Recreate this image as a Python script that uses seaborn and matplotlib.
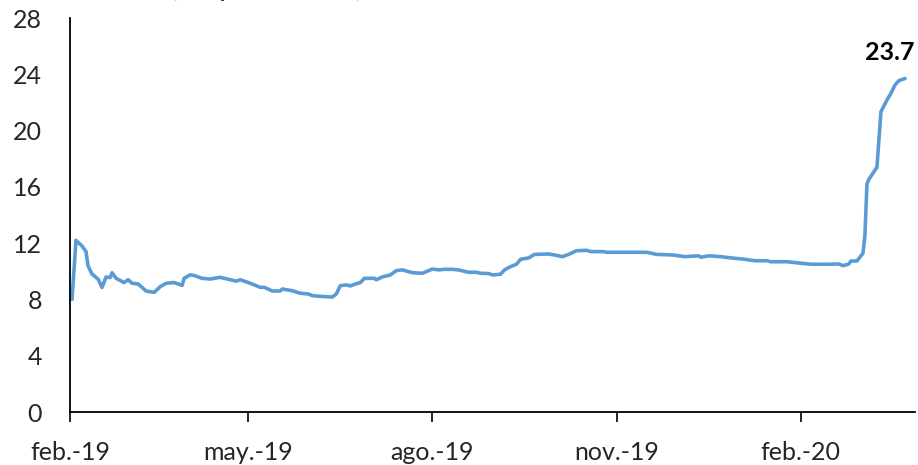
import pandas as pd
import seaborn as sns
import matplotlib.pyplot as plt

# fechas y valores
fechas = ['2019-02-01', '2019-02-02', '2019-02-04', '2019-02-07', '2019-02-09', '2019-02-10',
          '2019-02-12', '2019-02-15', '2019-02-17', '2019-02-19', '2019-02-21', '2019-02-22',
          '2019-02-24', '2019-02-28', '2019-03-02', '2019-03-04', '2019-03-07', '2019-03-11',
          '2019-03-15', '2019-03-18', '2019-03-21', '2019-03-25', '2019-03-29', '2019-03-30',
          '2019-04-02', '2019-04-04', '2019-04-08', '2019-04-12', '2019-04-17', '2019-04-22',
          '2019-04-25', '2019-04-27', '2019-05-02', '2019-05-07', '2019-05-09', '2019-05-13',
          '2019-05-17', '2019-05-18', '2019-05-23', '2019-05-27', '2019-05-31', '2019-06-02',
          '2019-06-06', '2019-06-12', '2019-06-14', '2019-06-16', '2019-06-19', '2019-06-21',
          '2019-06-24', '2019-06-26', '2019-06-28', '2019-07-03', '2019-07-04', '2019-07-07',
          '2019-07-11', '2019-07-14', '2019-07-17', '2019-07-22', '2019-07-27', '2019-08-01',
          '2019-08-04', '2019-08-07', '2019-08-11', '2019-08-14', '2019-08-19', '2019-08-23',
          '2019-08-25', '2019-08-29', '2019-08-31', '2019-09-04', '2019-09-06', '2019-09-09',
          '2019-09-12', '2019-09-14', '2019-09-18', '2019-09-21', '2019-09-28', '2019-10-01',
          '2019-10-05', '2019-10-08', '2019-10-12', '2019-10-17', '2019-10-19', '2019-10-25',
          '2019-10-27', '2019-11-12', '2019-11-16', '2019-11-21', '2019-11-29', '2019-12-05',
          '2019-12-12', '2019-12-13', '2019-12-17', '2019-12-23', '2019-12-27', '2020-01-04',
          '2020-01-09', '2020-01-15', '2020-01-17', '2020-01-25', '2020-01-31', '2020-02-06',
          '2020-02-15', '2020-02-20', '2020-02-22', '2020-02-25', '2020-02-26', '2020-02-29',
          '2020-03-03', '2020-03-04', '2020-03-05', '2020-03-06', '2020-03-10', '2020-03-12',
          '2020-03-15', '2020-03-17', '2020-03-19', '2020-03-21', '2020-03-24']
valores = [8.7, 8.0, 12.2, 11.8, 11.4, 10.4,
           9.8, 9.45, 8.85, 9.6, 9.55, 9.9,
           9.5, 9.2, 9.4, 9.15, 9.1, 8.6,
           8.5, 8.9, 9.15, 9.2, 9.0, 9.5,
           9.75, 9.7, 9.5, 9.45, 9.57, 9.4,
           9.3, 9.4, 9.15, 8.86, 8.86, 8.6,
           8.6, 8.74, 8.62, 8.44, 8.39, 8.27,
           8.22, 8.17, 8.39, 8.98, 9.03, 8.96,
           9.12, 9.2, 9.5, 9.5, 9.4, 9.6,
           9.74, 10.05, 10.1, 9.9, 9.86, 10.16,
           10.1, 10.14, 10.14, 10.1, 9.93, 9.93,
           9.86, 9.84, 9.74, 9.79, 10.1, 10.33,
           10.5, 10.85, 10.95, 11.2, 11.23, 11.16,
           11.04, 11.2, 11.46, 11.49, 11.4, 11.4,
           11.35, 11.35, 11.35, 11.2, 11.16, 11.04,
           11.1, 11.0, 11.1, 11.04, 10.97, 10.85,
           10.75, 10.75, 10.68, 10.68, 10.59, 10.5,
           10.5, 10.52, 10.4, 10.52, 10.73, 10.73,
           11.28, 12.58, 16.2, 16.54, 17.4, 21.35,
           22.17, 22.65, 23.24, 23.55, 23.7]

tick_fechas = ['2019-02-01', '2019-05-01', '2019-08-01', '2019-11-01', '2020-02-01']
tick_labels = ['feb.-19', 'may.-19', 'ago.-19', 'nov.-19', 'feb.-20']
y_ticks = [0, 4, 8, 12, 16, 20, 24, 28]

df = pd.DataFrame({'fecha': pd.to_datetime(fechas), 'valor': valores})

sns.set_style('white')
plt.rcParams['font.family'] = ['Lato', 'DejaVu Sans']

fig = plt.figure(figsize=(9.18, 4.65), dpi=100)
ax = fig.add_axes([70 / 918, 1 - 412 / 465, 845 / 918, 394 / 465])

sns.lineplot(data=df, x='fecha', y='valor', ax=ax, color='#5B9BD5', linewidth=2.6)

ax.set_xlim(pd.Timestamp('2019-02-01'), pd.Timestamp('2020-03-29'))
ax.set_ylim(0, 28)
ax.set_yticks(y_ticks)
ax.set_xticks(pd.to_datetime(tick_fechas))
ax.set_xticklabels(tick_labels)
ax.set_xlabel('')
ax.set_ylabel('')
ax.tick_params(axis='y', length=0, pad=20, labelsize=18)
ax.tick_params(axis='x', length=7, width=1.2, direction='out', pad=14, labelsize=18, bottom=True, color='black')

for s in ['top', 'right']:
    ax.spines[s].set_visible(False)
for s in ['left', 'bottom']:
    ax.spines[s].set_color('black')
    ax.spines[s].set_linewidth(1.3)

ax.annotate(f'{valores[-1]:.1f}', xy=(df['fecha'].iloc[-1], valores[-1]),
            xytext=(-11, 19), textcoords='offset points', ha='center', va='center',
            fontsize=18, fontweight='bold', color='black')

# titulo cortado en la parte superior de la imagen (como en el original)
fig.text(267 / 918, 1 + 4 / 465, '(en por ciento)', ha='center', va='baseline',
         fontsize=22, color='#1F3864')

fig.savefig('out.png', dpi=100)
